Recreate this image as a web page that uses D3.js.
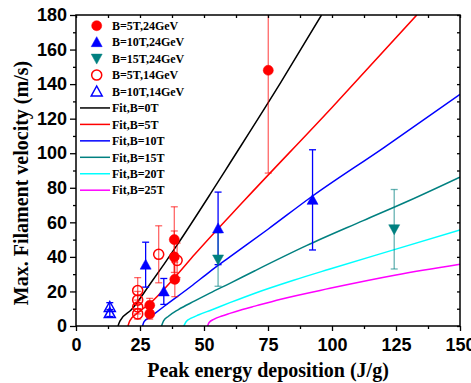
<!DOCTYPE html>
<html lang="en">
<head>
<meta charset="UTF-8">
<title>Max. Filament velocity vs peak energy deposition</title>
<script src="https://d3js.org/d3.v7.min.js"></script>
<style>
    body { margin: 0; padding: 0; background: #fff; overflow: hidden; }
    svg { font-family: "Liberation Serif", "Times New Roman", serif; font-weight: bold; }
    .axis path, .axis line { stroke: #000; stroke-width: 1.3px; }
    .axis text { font-size: 18px; font-weight: bold; fill: #000; }
</style>
</head>
<body>
<script>
    // measured points [E (J/g), v (m/s), error]
    const b5_24GeV = [[28.8, 12, 4], [28.8, 7, 3], [38.4, 50, 19], [38.4, 40, 15], [38.6, 27, 10], [75.1, 148, 59.5]];
    const b10_24GeV = [[27.2, 35.5, 13], [34.3, 20, 7.5], [55.5, 56.5, 21], [92.4, 73, 29]];
    const b15_24GeV = [[55.5, 38.5, 15.5], [124.3, 56, 23]];
    const b5_14GeV = [[24.1, 20.5, 7.5], [24.1, 15, 5], [24.1, 11, 4], [24.1, 7, 3], [32.3, 41.5, 16.5], [39.5, 38, 10]];
    const b10_14GeV = [[13.2, 11, 2.5], [13.2, 7.5, 2]];

    // fit curves [E, v]
    const fitB0 = [[16.4, 0], [17.2, 3], [21.7, 9.5], [28.8, 24], [40, 48], [52.3, 76], [60.1, 94.2], [80, 141], [95.9, 180]];
    const fitB5 = [[20.3, 0], [21, 3], [24, 7.5], [28.8, 13], [38.5, 28], [46.4, 41.5], [65.9, 72.9], [100, 126.5], [133.1, 180]];
    const fitB10 = [[26, 0], [26.6, 2.5], [28.8, 5], [35, 12], [45, 23], [52.3, 31.5], [60.1, 40], [75, 56], [92, 74.8], [120, 103], [150, 134.1]];
    const fitB15 = [[33.4, 0], [34.2, 3], [36, 5.5], [40, 9.5], [46.4, 14.5], [52.3, 19], [60.1, 24.7], [69.9, 32], [90, 46.5], [112.2, 61], [130, 72.5], [150, 86.2]];
    const fitB20 = [[42.1, 0], [43, 2.5], [45, 4.5], [48, 6.5], [52.9, 9.3], [60.1, 13.5], [69.9, 19], [85, 26.5], [99.2, 33], [125, 44.5], [150, 55.6]];
    const fitB25 = [[51.4, 0], [52, 2], [54, 4], [57, 5.8], [60.1, 7.3], [65, 9.5], [69.9, 11.5], [80, 15.5], [99.2, 21.8], [125, 29.5], [150, 35.7]];

    const xMajor = [0, 25, 50, 75, 100, 125, 150];
    const xMinor = [12.5, 37.5, 62.5, 87.5, 112.5, 137.5];
    const yMajor = [0, 20, 40, 60, 80, 100, 120, 140, 160, 180];
    const yMinor = [10, 30, 50, 70, 90, 110, 130, 150, 170];

    const width = 471, height = 383;
    const margin = { left: 76, right: 11, top: 15, bottom: 57 };

    const svg = d3.select("body").append("svg")
        .attr("width", width)
        .attr("height", height);

    const x = d3.scaleLinear().domain([0, 150]).range([margin.left, width - margin.right]);
    const y = d3.scaleLinear().domain([0, 180]).range([height - margin.bottom, margin.top]);

    svg.append("defs").append("clipPath").attr("id", "plot-clip")
        .append("rect")
        .attr("x", x(0)).attr("y", y(180))
        .attr("width", x(150) - x(0)).attr("height", y(0) - y(180));

    const plot = svg.append("g").attr("clip-path", "url(#plot-clip)");

    // fit lines
    const fits = [
        { data: fitB0, color: "#000000", label: "Fit,B=0T" },
        { data: fitB5, color: "#ff0000", label: "Fit,B=5T" },
        { data: fitB10, color: "#0000ff", label: "Fit,B=10T" },
        { data: fitB15, color: "#008080", label: "Fit,B=15T" },
        { data: fitB20, color: "#00ffff", label: "Fit,B=20T" },
        { data: fitB25, color: "#ff00ff", label: "Fit,B=25T" }
    ];

    const line = d3.line().x(d => x(d[0])).y(d => y(d[1])).curve(d3.curveMonotoneX);

    fits.forEach(f => {
        plot.append("path")
            .attr("d", line(f.data))
            .attr("fill", "none")
            .attr("stroke", f.color)
            .attr("stroke-width", 1.5);
    });

    // scatter series
    const series = [
        { data: b5_24GeV, color: "#ff0000", shape: "circle", filled: true, barOpacity: 0.6, label: "B=5T,24GeV" },
        { data: b10_24GeV, color: "#0000ff", shape: "up", filled: true, barOpacity: 1, label: "B=10T,24GeV" },
        { data: b15_24GeV, color: "#008080", shape: "down", filled: true, barOpacity: 0.6, label: "B=15T,24GeV" },
        { data: b5_14GeV, color: "#ff0000", shape: "circle", filled: false, barOpacity: 0.6, label: "B=5T,14GeV" },
        { data: b10_14GeV, color: "#0000ff", shape: "up", filled: false, barOpacity: 1, label: "B=10T,14GeV" }
    ];

    function markerPath(shape) {
        if (shape === "circle") return d3.symbol(d3.symbolCircle, 80)();
        if (shape === "up") return "M0,-5.5L5.5,4.5L-5.5,4.5Z";
        return "M0,5.5L5.5,-4.5L-5.5,-4.5Z";
    }

    function drawMarker(g, s, cx, cy) {
        g.append("path")
            .attr("d", markerPath(s.shape))
            .attr("transform", `translate(${cx},${cy})`)
            .attr("fill", s.filled ? s.color : "none")
            .attr("stroke", s.color)
            .attr("stroke-width", s.filled ? 0.5 : 1.5);
    }

    // error bars first, markers on top
    series.forEach(s => {
        s.data.forEach(d => {
            const cx = x(d[0]);
            const top = y(d[1] + d[2]), bot = y(d[1] - d[2]);
            const g = plot.append("g")
                .attr("stroke", s.color)
                .attr("stroke-opacity", s.barOpacity)
                .attr("stroke-width", 1.3);
            g.append("line").attr("x1", cx).attr("x2", cx).attr("y1", top).attr("y2", bot);
            g.append("line").attr("x1", cx - 3.5).attr("x2", cx + 3.5).attr("y1", top).attr("y2", top);
            g.append("line").attr("x1", cx - 3.5).attr("x2", cx + 3.5).attr("y1", bot).attr("y2", bot);
        });
    });

    series.forEach(s => {
        s.data.forEach(d => drawMarker(plot, s, x(d[0]), y(d[1])));
    });

    // axes
    svg.append("g").attr("class", "axis")
        .attr("transform", `translate(0,${y(0)})`)
        .call(d3.axisBottom(x).tickValues(xMajor).tickSize(5).tickPadding(7).tickFormat(d3.format("d")))
        .call(g => g.select(".domain").remove());
    svg.append("g").attr("class", "axis")
        .attr("transform", `translate(0,${y(0)})`)
        .call(d3.axisBottom(x).tickValues(xMinor).tickSize(3).tickFormat(""))
        .call(g => g.select(".domain").remove());

    svg.append("g").attr("class", "axis")
        .attr("transform", `translate(${x(0)},0)`)
        .call(d3.axisLeft(y).tickValues(yMajor).tickSize(6).tickPadding(3).tickFormat(d3.format("d")))
        .call(g => g.select(".domain").remove());
    svg.append("g").attr("class", "axis")
        .attr("transform", `translate(${x(0)},0)`)
        .call(d3.axisLeft(y).tickValues(yMinor).tickSize(3).tickFormat(""))
        .call(g => g.select(".domain").remove());

    // mirrored ticks on top and right, pointing inward
    svg.append("g").attr("class", "axis")
        .attr("transform", `translate(0,${y(180)})`)
        .call(d3.axisTop(x).tickValues(xMajor.concat(xMinor)).tickSize(-3).tickFormat(""))
        .call(g => g.select(".domain").remove());
    svg.append("g").attr("class", "axis")
        .attr("transform", `translate(${x(150)},0)`)
        .call(d3.axisRight(y).tickValues(yMajor.concat(yMinor)).tickSize(-3).tickFormat(""))
        .call(g => g.select(".domain").remove());

    svg.append("rect")
        .attr("x", x(0)).attr("y", y(180))
        .attr("width", x(150) - x(0)).attr("height", y(0) - y(180))
        .attr("fill", "none")
        .attr("stroke", "#000")
        .attr("stroke-width", 1.5);

    // axis titles
    svg.append("text")
        .attr("x", (x(0) + x(150)) / 2)
        .attr("y", 377)
        .attr("text-anchor", "middle")
        .attr("font-size", 20)
        .text("Peak energy deposition (J/g)");

    svg.append("text")
        .attr("transform", "translate(28,183) rotate(-90)")
        .attr("text-anchor", "middle")
        .attr("font-size", 20)
        .text("Max. Filament velocity (m/s)");

    // legend
    const legend = svg.append("g");
    const rowH = 16.45, row0 = 25.7;
    series.forEach((s, i) => {
        const cy = row0 + i * rowH;
        drawMarker(legend, s, 96.7, cy);
        legend.append("text")
            .attr("x", 112)
            .attr("y", cy)
            .attr("dy", "0.35em")
            .attr("font-size", 12)
            .text(s.label);
    });
    fits.forEach((f, i) => {
        const cy = row0 + (i + series.length) * rowH;
        legend.append("line")
            .attr("x1", 80).attr("x2", 110)
            .attr("y1", cy).attr("y2", cy)
            .attr("stroke", f.color)
            .attr("stroke-width", 1.5);
        legend.append("text")
            .attr("x", 112)
            .attr("y", cy)
            .attr("dy", "0.35em")
            .attr("font-size", 12)
            .text(f.label);
    });
</script>
</body>
</html>
